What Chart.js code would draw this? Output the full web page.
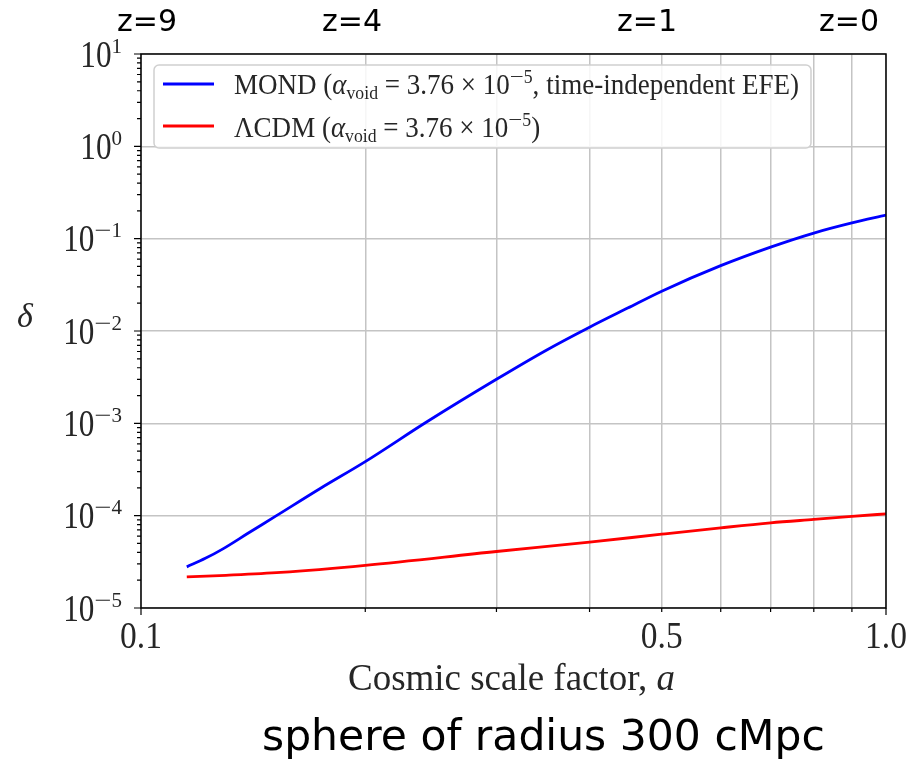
<!DOCTYPE html>
<html>
<head>
    <title>Void density contrast vs scale factor</title>
    <script src="https://cdn.jsdelivr.net/npm/chart.js"></script>
    <style>
        body {
            margin: 0;
            padding: 0;
            background: #ffffff;
            overflow: hidden;
        }
        #wrap {
            position: relative;
            width: 911px;
            height: 762px;
        }
        #plot {
            position: absolute;
            left: 0;
            top: 0;
        }
        .zlab {
            position: absolute;
            top: 3px;
            font-family: 'DejaVu Sans', sans-serif;
            font-size: 30px;
            color: #000;
            white-space: nowrap;
        }
        #caption {
            position: absolute;
            left: 262px;
            top: 711px;
            font-family: 'DejaVu Sans', sans-serif;
            font-size: 42.5px;
            color: #000;
            white-space: nowrap;
        }
    </style>
</head>
<body>
<div id="wrap">
    <canvas id="plot" width="911" height="762"></canvas>
    <div class="zlab" style="left:117px">z=9</div>
    <div class="zlab" style="left:322px">z=4</div>
    <div class="zlab" style="left:617px">z=1</div>
    <div class="zlab" style="left:819px">z=0</div>
    <div id="caption">sphere of radius 300 cMpc</div>
</div>

<script>
    // valores (a = factor de escala, delta = contraste)
    const aMond = [0.1152, 0.122, 0.129, 0.139, 0.152, 0.174, 0.2, 0.242, 0.3, 0.35, 0.4, 0.45, 0.5, 0.6, 0.7, 0.8, 0.9, 1.0];
    const deltaMond = [2.79e-5, 3.45e-5, 4.4e-5, 6.4e-5, 1.0e-4, 1.97e-4, 3.85e-4, 1.04e-3, 3.0e-3, 6.2e-3, 1.1e-2, 1.77e-2, 2.7e-2, 5.1e-2, 8.1e-2, 0.115, 0.148, 0.18];
    const aLcdm = [0.1152, 0.13, 0.154, 0.2, 0.3, 0.4, 0.5, 0.6, 0.7, 0.8, 0.9, 1.0];
    const deltaLcdm = [2.17e-5, 2.26e-5, 2.43e-5, 2.9e-5, 4.09e-5, 5.16e-5, 6.3e-5, 7.38e-5, 8.36e-5, 9.1e-5, 9.8e-5, 1.047e-4];

    const xGridVals = [0.1, 0.2, 0.3, 0.4, 0.5, 0.6, 0.7, 0.8, 0.9, 1.0];
    const xLabelVals = [0.1, 0.5, 1.0];
    const xLabelText = ['0.1', '0.5', '1.0'];
    const yTickExps = [-5, -4, -3, -2, -1, 0, 1];

    const SERIF = "'Liberation Serif', 'DejaVu Serif', serif";

    function toPts(xs, ys) {
        return xs.map((x, i) => ({ x: x, y: ys[i] }));
    }

    // texto por partes (sub/superíndices), cada parte con su propio ancho relativo
    function richWidth(ctx, parts) {
        let w = 0;
        parts.forEach(p => { ctx.font = p.font; w += ctx.measureText(p.t).width * (p.sx || 1); });
        return w;
    }

    function drawRich(ctx, x, y, parts, sx) {
        sx = sx || 1;
        ctx.save();
        ctx.translate(x, y);
        ctx.scale(sx, 1);
        let cx = 0;
        parts.forEach(p => {
            ctx.font = p.font;
            const ps = p.sx || 1;
            ctx.save();
            ctx.translate(cx, p.dy || 0);
            ctx.scale(ps, 1);
            ctx.fillText(p.t, 0, 0);
            ctx.restore();
            cx += ctx.measureText(p.t).width * ps;
        });
        ctx.restore();
    }

    const LF = 29;
    function legendParts(name, extra) {
        return [
            { t: name + ' (', font: LF + 'px ' + SERIF },
            { t: 'α', font: 'italic ' + LF + 'px ' + SERIF },
            { t: 'void', font: '19px ' + SERIF, dy: 5 },
            { t: ' = 3.76 × 10', font: LF + 'px ' + SERIF },
            { t: '−', font: '19px ' + SERIF, dy: -11, sx: 1.4 },
            { t: '5', font: '19px ' + SERIF, dy: -11 },
            { t: extra + ')', font: LF + 'px ' + SERIF }
        ];
    }

    const decor = {
        id: 'decor',
        afterDraw(chart) {
            const ctx = chart.ctx;
            const xs = chart.scales.x, ys = chart.scales.y;
            const ca = chart.chartArea;
            ctx.save();

            // marco
            ctx.strokeStyle = '#000';
            ctx.lineWidth = 1.5;
            ctx.strokeRect(ca.left, ca.top, ca.right - ca.left, ca.bottom - ca.top);

            // marcas del eje y (mayores y menores)
            ctx.lineWidth = 1.2;
            ctx.beginPath();
            for (let e = -5; e <= 1; e++) {
                const py = ys.getPixelForValue(Math.pow(10, e));
                ctx.moveTo(ca.left - 7, py); ctx.lineTo(ca.left, py);
                if (e < 1) {
                    for (let m = 2; m <= 9; m++) {
                        const pm = ys.getPixelForValue(m * Math.pow(10, e));
                        ctx.moveTo(ca.left - 4, pm); ctx.lineTo(ca.left, pm);
                    }
                }
            }
            // marcas del eje x
            xGridVals.forEach(v => {
                const px = xs.getPixelForValue(v);
                const len = (v === 0.1 || v === 1.0) ? 7 : 4;
                ctx.moveTo(px, ca.bottom); ctx.lineTo(px, ca.bottom + len);
            });
            ctx.stroke();

            // etiquetas del eje y
            ctx.fillStyle = '#262626';
            ctx.textBaseline = 'alphabetic';
            ctx.textAlign = 'left';
            yTickExps.forEach(e => {
                const py = ys.getPixelForValue(Math.pow(10, e));
                const parts = [{ t: '10', font: '38px ' + SERIF, sx: 0.82 }];
                if (e < 0) parts.push({ t: '−', font: '21px ' + SERIF, dy: -14, sx: 1.45 });
                parts.push({ t: String(Math.abs(e)), font: '21px ' + SERIF, dy: -14 });
                const w = richWidth(ctx, parts);
                drawRich(ctx, 122 - w, py + 12.5, parts);
            });

            // etiquetas del eje x
            xLabelVals.forEach((v, i) => {
                const parts = [{ t: xLabelText[i], font: '38px ' + SERIF }];
                const sx = 0.88;
                const w = richWidth(ctx, parts) * sx;
                drawRich(ctx, xs.getPixelForValue(v) - w / 2, 648, parts, sx);
            });

            // títulos de ejes
            const tParts = [
                { t: 'Cosmic scale factor, ', font: '37px ' + SERIF },
                { t: 'a', font: 'italic 37px ' + SERIF }
            ];
            const tsx = 327 / richWidth(ctx, tParts);
            drawRich(ctx, 348, 690, tParts, tsx);
            drawRich(ctx, 17, 327, [{ t: 'δ', font: 'italic 34px ' + SERIF }], 1);

            // leyenda
            const lx = 154, ly = 65, lw = 657, lh = 83;
            ctx.fillStyle = 'rgba(255,255,255,0.85)';
            ctx.strokeStyle = '#d0d0d0';
            ctx.lineWidth = 1.5;
            ctx.beginPath();
            ctx.roundRect(lx, ly, lw, lh, 5);
            ctx.fill();
            ctx.stroke();

            ctx.lineWidth = 2.8;
            ctx.strokeStyle = '#0000ff';
            ctx.beginPath(); ctx.moveTo(163, 84); ctx.lineTo(214, 84); ctx.stroke();
            ctx.strokeStyle = '#ff0000';
            ctx.beginPath(); ctx.moveTo(163, 126); ctx.lineTo(214, 126); ctx.stroke();

            ctx.fillStyle = '#262626';
            const l1 = legendParts('MOND', ', time-independent EFE');
            const lsx = 565 / richWidth(ctx, l1);
            drawRich(ctx, 234, 94, l1, lsx);
            drawRich(ctx, 234, 137, legendParts('ΛCDM', ''), lsx);

            ctx.restore();
        }
    };

    new Chart(document.getElementById('plot'), {
        type: 'line',
        data: {
            datasets: [
                {
                    label: 'MOND',
                    data: toPts(aMond, deltaMond),
                    borderColor: '#0000ff',
                    borderWidth: 2.8,
                    pointRadius: 0,
                    cubicInterpolationMode: 'monotone',
                    fill: false
                },
                {
                    label: 'ΛCDM',
                    data: toPts(aLcdm, deltaLcdm),
                    borderColor: '#ff0000',
                    borderWidth: 2.8,
                    pointRadius: 0,
                    cubicInterpolationMode: 'monotone',
                    fill: false
                }
            ]
        },
        options: {
            responsive: false,
            animation: false,
            layout: {
                padding: { left: 141, right: 25, top: 54, bottom: 154 }
            },
            plugins: {
                legend: { display: false },
                tooltip: { enabled: false }
            },
            scales: {
                x: {
                    type: 'logarithmic',
                    min: 0.1,
                    max: 1.0,
                    afterBuildTicks: s => { s.ticks = xGridVals.map(v => ({ value: v })); },
                    ticks: { display: false },
                    border: { display: false },
                    grid: { color: '#c4c4c4', lineWidth: 1.5, drawTicks: false }
                },
                y: {
                    type: 'logarithmic',
                    min: 1e-5,
                    max: 10,
                    afterBuildTicks: s => { s.ticks = yTickExps.map(e => ({ value: Math.pow(10, e) })); },
                    ticks: { display: false },
                    border: { display: false },
                    grid: { color: '#c4c4c4', lineWidth: 1.5, drawTicks: false }
                }
            }
        },
        plugins: [decor]
    });
</script>
</body>
</html>
